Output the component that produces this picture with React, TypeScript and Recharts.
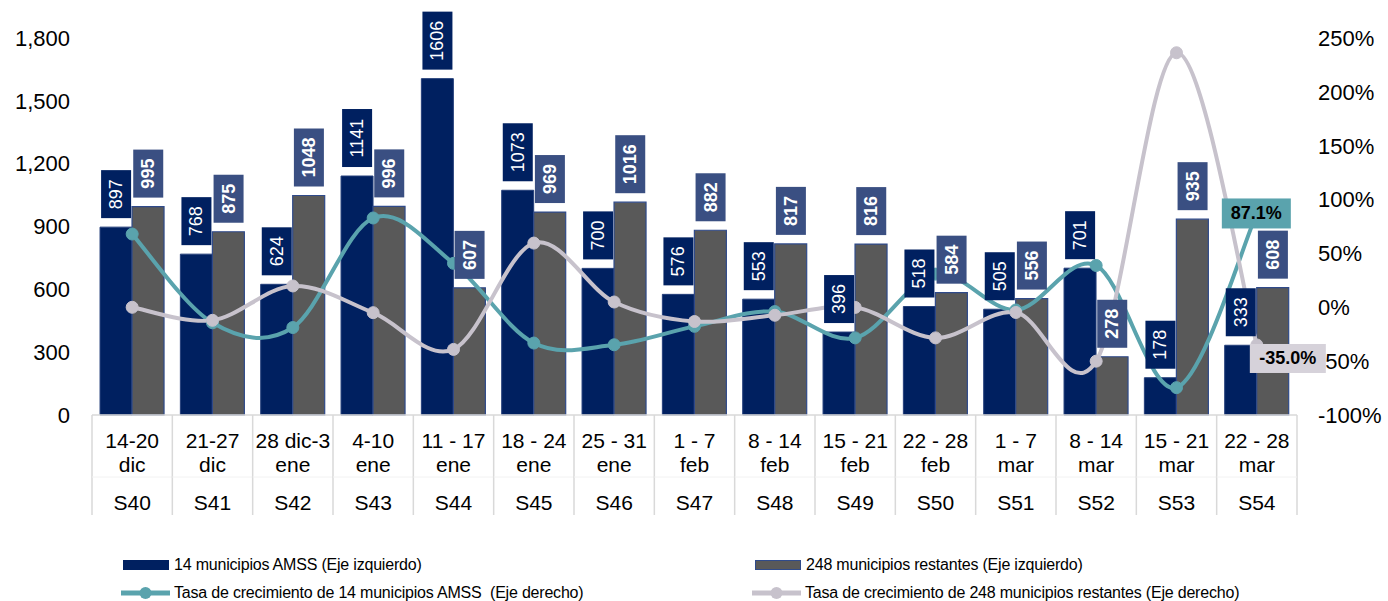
import React from 'react';
import { ComposedChart, Bar, Line, XAxis, YAxis, LabelList } from 'recharts';

// semanas epidemiológicas
const weeks = ['S40', 'S41', 'S42', 'S43', 'S44', 'S45', 'S46', 'S47', 'S48', 'S49', 'S50', 'S51', 'S52', 'S53', 'S54'];
const dateTop = ['14-20', '21-27', '28 dic-3', '4-10', '11 - 17', '18 - 24', '25 - 31', '1 - 7', '8 - 14', '15 - 21', '22 - 28', '1 - 7', '8 - 14', '15 - 21', '22 - 28'];
const dateBottom = ['dic', 'dic', 'ene', 'ene', 'ene', 'ene', 'ene', 'feb', 'feb', 'feb', 'feb', 'mar', 'mar', 'mar', 'mar'];

const amss = [897, 768, 624, 1141, 1606, 1073, 700, 576, 553, 396, 518, 505, 701, 178, 333];
const restantes = [995, 875, 1048, 996, 607, 969, 1016, 882, 817, 816, 584, 556, 278, 935, 608];
const tasaAmss = [68, -14.4, -18.8, 82.9, 40.8, -33.2, -34.8, -17.7, -4.0, -28.4, 30.8, -2.5, 38.8, -74.6, 87.1];
const tasaRestantes = [0, -12.1, 19.8, -5.0, -39.1, 59.6, 4.9, -13.2, -7.4, -0.1, -28.4, -4.8, -50.0, 236.3, -35.0];

const leftTicks = [0, 300, 600, 900, 1200, 1500, 1800];
const rightTicks = [-100, -50, 0, 50, 100, 150, 200, 250];

const seriesNames = [
  '14 municipios AMSS (Eje izquierdo)',
  '248 municipios restantes (Eje izquierdo)',
  'Tasa de crecimiento de 14 municipios AMSS  (Eje derecho)',
  'Tasa de crecimiento de 248 municipios restantes (Eje derecho)',
];

const NAVY = '#002060';
const GRAY = '#595959';
const TAG_BLUE = '#3a4f82';
const TEAL = '#5aa3ad';
const LILAC = '#c7c2cc';
const FONT = '"Liberation Sans", Arial, sans-serif';

const data = weeks.map((w, i) => ({
  week: w,
  amss: amss[i],
  restantes: restantes[i],
  tasaAmss: tasaAmss[i],
  tasaRestantes: tasaRestantes[i],
}));

const CAT_W = (1297 - 92) / weeks.length;
const BAR_OFF = CAT_W * 0.2;

// suavizado tipo Excel (Catmull-Rom)
const smoothCurve = (ctx: any) => {
  let pts: number[][] = [];
  return {
    areaStart() {},
    areaEnd() {},
    lineStart() { pts = []; },
    point(x: number, y: number) { pts.push([+x, +y]); },
    lineEnd() {
      if (!pts.length) return;
      ctx.moveTo(pts[0][0], pts[0][1]);
      for (let i = 0; i < pts.length - 1; i++) {
        const p0 = pts[i - 1] || pts[i];
        const p1 = pts[i];
        const p2 = pts[i + 1];
        const p3 = pts[i + 2] || p2;
        ctx.bezierCurveTo(
          p1[0] + (p2[0] - p0[0]) / 6, p1[1] + (p2[1] - p0[1]) / 6,
          p2[0] - (p3[0] - p1[0]) / 6, p2[1] - (p3[1] - p1[1]) / 6,
          p2[0], p2[1]
        );
      }
    },
  };
};

const WeekTick = (props: any) => {
  const { x, y, payload } = props;
  const i = payload.index;
  const left = x - CAT_W / 2;
  const right = x + CAT_W / 2;
  return (
    <g fontFamily={FONT} fontSize={21} fill="#000">
      <line x1={left} x2={left} y1={y} y2={y + 100} stroke="#d9d9d9" strokeWidth={1.5} />
      {i === weeks.length - 1 && <line x1={right} x2={right} y1={y} y2={y + 100} stroke="#d9d9d9" strokeWidth={1.5} />}
      <line x1={left} x2={right} y1={y + 62} y2={y + 62} stroke="#f2f2f2" strokeWidth={1} />
      <text x={x} y={y + 33} textAnchor="middle" fill="#000">{dateTop[i]}</text>
      <text x={x} y={y + 57} textAnchor="middle" fill="#000">{dateBottom[i]}</text>
      <text x={x} y={y + 95} textAnchor="middle" fill="#000">{weeks[i]}</text>
    </g>
  );
};

const makeBarTag = (dx: number, fill: string, bold: boolean) => (props: any) => {
  const px = props.x ?? props.viewBox?.x;
  const py = props.y ?? props.viewBox?.y;
  if (px == null || py == null) return null;
  const txt = String(props.value);
  const h = txt.length * 10 + 18;
  const w = 30;
  const cx = px + dx;
  const bottom = py - 9;
  const cy = bottom - h / 2;
  return (
    <g>
      <rect x={cx - w / 2} y={bottom - h} width={w} height={h} fill={fill} />
      <text
        x={cx}
        y={cy}
        transform={`rotate(-90 ${cx} ${cy})`}
        textAnchor="middle"
        dominantBaseline="central"
        fill="#fff"
        fontSize={18}
        fontWeight={bold ? 700 : 400}
        fontFamily={FONT}
      >
        {txt}
      </text>
    </g>
  );
};

const makePctTag = (fill: string, w: number, h: number, ox: number, oy: number) => (props: any) => {
  if (props.index !== weeks.length - 1) return null;
  const px = props.x ?? props.viewBox?.x;
  const py = props.y ?? props.viewBox?.y;
  const bx = px + ox;
  const by = py + oy;
  return (
    <g>
      <rect x={bx} y={by} width={w} height={h} fill={fill} />
      <text x={bx + w / 2} y={by + h / 2} textAnchor="middle" dominantBaseline="central" fontSize={18} fontWeight={700} fill="#000" fontFamily={FONT}>
        {Number(props.value).toFixed(1)}%
      </text>
    </g>
  );
};

const LegendIcon = ({ kind, color }: { kind: string; color: string }) =>
  kind === 'bar' ? (
    <svg width={46} height={10} style={{ marginRight: 5 }}>
      <rect x={0.5} y={0.5} width={45} height={9} fill={color} stroke={color === GRAY ? '#2f4a8a' : color} />
    </svg>
  ) : (
    <svg width={49} height={14} style={{ marginRight: 4 }}>
      <line x1={0} x2={49} y1={7} y2={7} stroke={color} strokeWidth={5} />
      <circle cx={24.5} cy={7} r={6} fill={color} />
    </svg>
  );

const legendLayout = [
  { kind: 'bar', color: NAVY, left: 123, top: 565 },
  { kind: 'bar', color: GRAY, left: 755, top: 565 },
  { kind: 'line', color: TEAL, left: 121, top: 593 },
  { kind: 'line', color: LILAC, left: 752, top: 593 },
];

export default function App() {
  return (
    <div style={{ position: 'absolute', left: 0, top: 0, width: 1388, height: 601, background: '#fff', fontFamily: FONT }}>
      <ComposedChart
        width={1388}
        height={601}
        data={data}
        margin={{ top: 38, right: 0, left: 0, bottom: 86 }}
        barCategoryGap="10%"
        barGap={0}
      >
        <XAxis
          dataKey="week"
          interval={0}
          height={100}
          tickLine={false}
          tickSize={0}
          tickMargin={0}
          axisLine={{ stroke: '#d9d9d9', strokeWidth: 1.5 }}
          tick={<WeekTick />}
        />
        <YAxis
          yAxisId="left"
          width={92}
          domain={[0, 1800]}
          ticks={leftTicks}
          axisLine={false}
          tickLine={false}
          tickSize={0}
          tickMargin={22}
          tick={{ fill: '#000', fontSize: 22, fontFamily: FONT }}
          tickFormatter={(v) => Number(v).toLocaleString('en-US')}
        />
        <YAxis
          yAxisId="right"
          orientation="right"
          width={91}
          domain={[-100, 250]}
          ticks={rightTicks}
          axisLine={false}
          tickLine={false}
          tickSize={0}
          tickMargin={21}
          tick={{ fill: '#000', fontSize: 22, fontFamily: FONT }}
          tickFormatter={(v) => `${v}%`}
        />
        <Bar yAxisId="left" dataKey="amss" name={seriesNames[0]} fill={NAVY} stroke="#243f7a" strokeWidth={1} isAnimationActive={false} />
        <Bar yAxisId="left" dataKey="restantes" name={seriesNames[1]} fill={GRAY} stroke="#2f4a8a" strokeWidth={1.2} isAnimationActive={false} />
        <Line
          yAxisId="right"
          dataKey="tasaAmss"
          name={seriesNames[2]}
          type={smoothCurve as any}
          stroke={TEAL}
          strokeWidth={4}
          dot={{ r: 6, fill: TEAL, stroke: TEAL, strokeWidth: 1 }}
          activeDot={false}
          isAnimationActive={false}
        />
        <Line
          yAxisId="right"
          dataKey="tasaRestantes"
          name={seriesNames[3]}
          type={smoothCurve as any}
          stroke={LILAC}
          strokeWidth={4}
          dot={{ r: 6, fill: LILAC, stroke: LILAC, strokeWidth: 1 }}
          activeDot={false}
          isAnimationActive={false}
        />
        {/* etiquetas encima de todo, como en Excel */}
        <Line yAxisId="left" dataKey="amss" stroke="none" dot={false} activeDot={false} legendType="none" isAnimationActive={false}>
          <LabelList dataKey="amss" content={makeBarTag(-BAR_OFF, NAVY, false)} />
        </Line>
        <Line yAxisId="left" dataKey="restantes" stroke="none" dot={false} activeDot={false} legendType="none" isAnimationActive={false}>
          <LabelList dataKey="restantes" content={makeBarTag(BAR_OFF, TAG_BLUE, true)} />
        </Line>
        <Line yAxisId="right" dataKey="tasaAmss" stroke="none" dot={false} activeDot={false} legendType="none" isAnimationActive={false}>
          <LabelList dataKey="tasaAmss" content={makePctTag(TEAL, 69, 30, -35, -15)} />
        </Line>
        <Line yAxisId="right" dataKey="tasaRestantes" stroke="none" dot={false} activeDot={false} legendType="none" isAnimationActive={false}>
          <LabelList dataKey="tasaRestantes" content={makePctTag('#d6d2da', 76, 29, -7, -1)} />
        </Line>
      </ComposedChart>
      {legendLayout.map((it, i) => (
        <div
          key={i}
          style={{
            position: 'absolute',
            left: it.left,
            top: it.top - 10,
            height: 20,
            display: 'flex',
            alignItems: 'center',
            fontSize: 16,
            letterSpacing: -0.2,
            color: '#000',
            whiteSpace: 'pre',
          }}
        >
          <LegendIcon kind={it.kind} color={it.color} />
          <span>{seriesNames[i]}</span>
        </div>
      ))}
    </div>
  );
}
